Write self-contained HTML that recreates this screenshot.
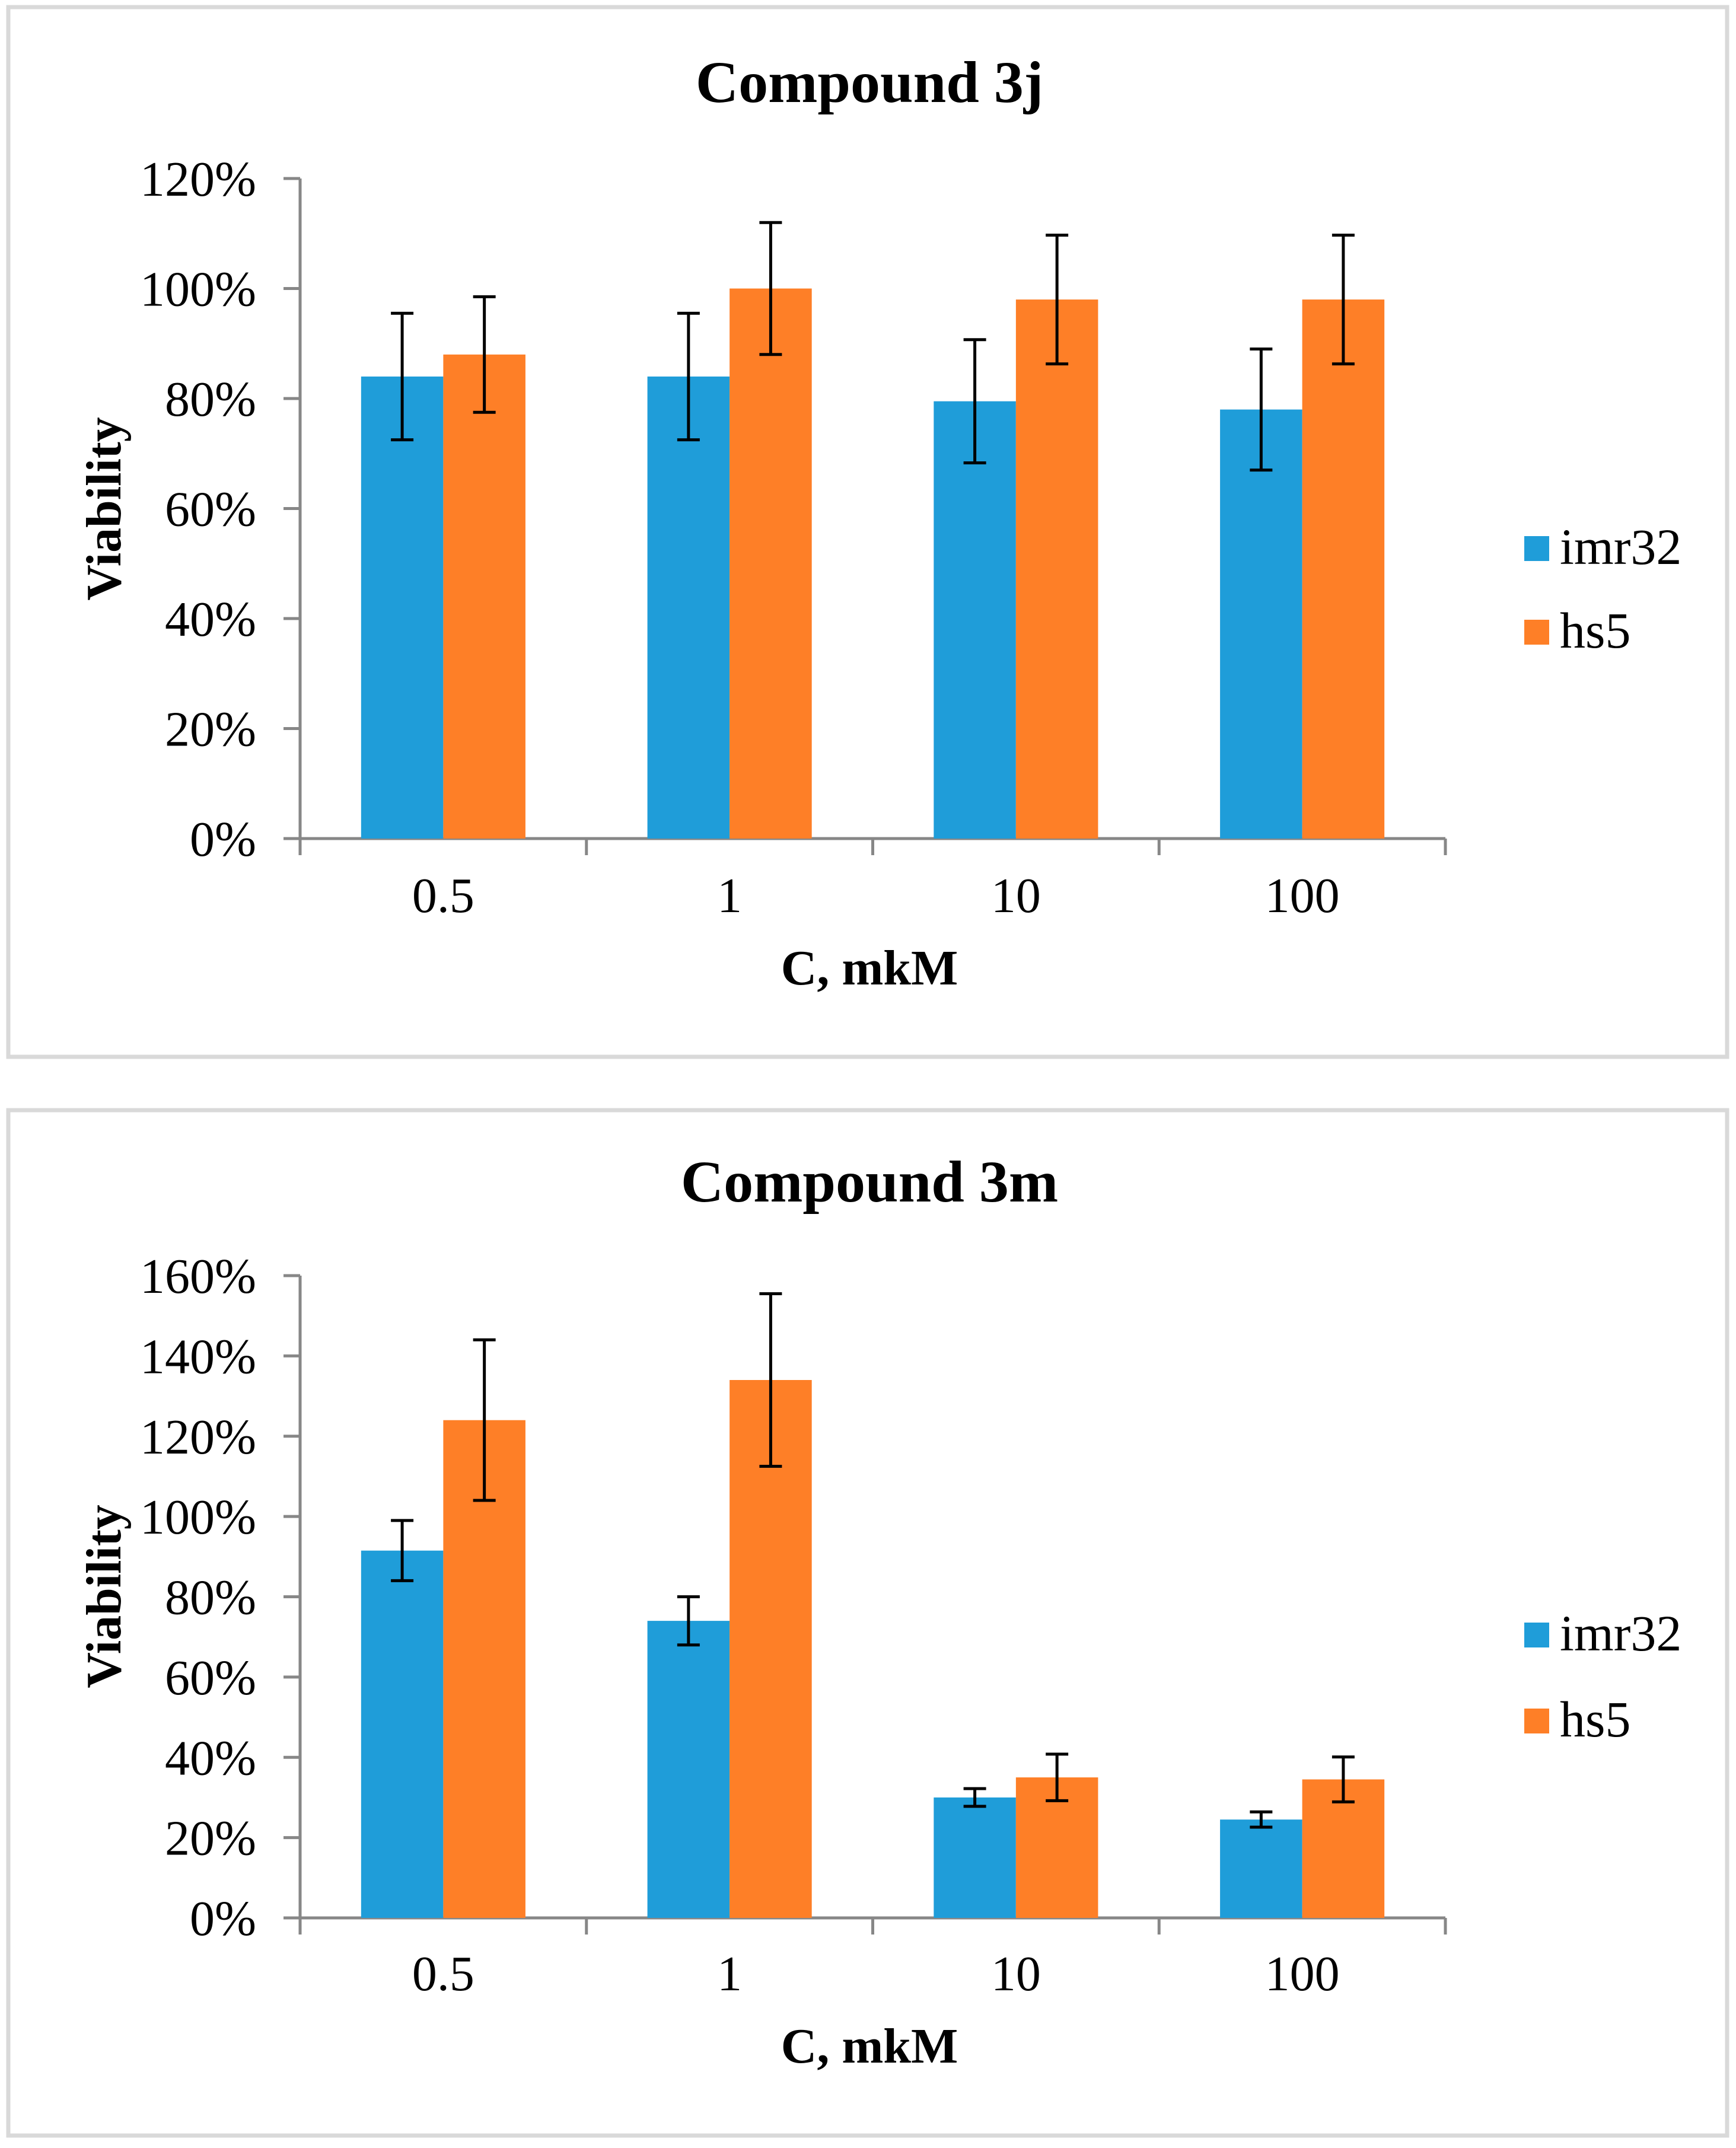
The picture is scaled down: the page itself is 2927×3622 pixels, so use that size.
<!DOCTYPE html>
<html><head><meta charset="utf-8"><style>
html,body{margin:0;padding:0;background:#fff;}
svg{display:block;}
text{font-family:"Liberation Serif",serif;fill:#000;}
</style></head><body>
<svg id="svg" width="2927" height="3622" viewBox="0 0 2927 3622" xmlns="http://www.w3.org/2000/svg"></svg>
<script>
const categories = ["0.5","1","10","100"];
const seriesNames = ["imr32","hs5"];
const topImr = [84,84,79.5,78];
const topImrErr = [11.5,11.5,11.2,11];
const topHs = [88,100,98,98];
const topHsErr = [10.5,12,11.7,11.7];
const topTicks = [0,20,40,60,80,100,120];
const botImr = [91.5,74,30,24.5];
const botImrErr = [7.5,6,2.2,1.9];
const botHs = [124,134,35,34.5];
const botHsErr = [20,21.5,5.8,5.6];
const botTicks = [0,20,40,60,80,100,120,140,160];

const NS="http://www.w3.org/2000/svg";
const svg=document.getElementById('svg');
function mk(tag,attrs,parent,txt){const e=document.createElementNS(NS,tag);for(const k in attrs)e.setAttribute(k,attrs[k]);if(txt!==undefined)e.textContent=txt;(parent||svg).appendChild(e);return e;}
const colors=["#1f9dd9","#fe7f27"];

function chart(cfg){
  const g=mk('g',{});
  
  
  const fr=mk('rect',{x:14,y:cfg.boxTop,width:2898,height:cfg.boxBot-cfg.boxTop,fill:'#fff',stroke:'#d9d9d9','stroke-width':7},g);
  
  
  const x0=506,x1=2437,y0=cfg.yZero,yT=cfg.yTop,max=cfg.ticks[cfg.ticks.length-1];
  const ys=v=>y0-(v/max)*(y0-yT);
  const cw=(x1-x0)/categories.length;
  const bw=cw*0.287;
  const t=mk('text',{x:1466,y:cfg.titleY,'font-size':100,'font-weight':'bold','text-anchor':'middle'},g,cfg.title);
  
  
  // y axis
  const ya=mk('line',{x1:x0,y1:yT,x2:x0,y2:y0+28,stroke:'#878787','stroke-width':5},g);
  
  
  cfg.ticks.forEach(v=>{
    const y=ys(v);
    mk('line',{x1:x0-28,y1:y,x2:x0,y2:y,stroke:'#878787','stroke-width':5},g);
    const tl=mk('text',{x:432,y:y+29,'font-size':84,'text-anchor':'end'},g,v+'%');
    
    
  });
  const xa=mk('line',{x1:x0,y1:y0,x2:x1,y2:y0,stroke:'#878787','stroke-width':5},g);
  
  
  for(let i=0;i<=categories.length;i++){mk('line',{x1:x0+i*cw,y1:y0,x2:x0+i*cw,y2:y0+28,stroke:'#878787','stroke-width':5},g);}
  const data=[cfg.imr,cfg.hs],errs=[cfg.imrErr,cfg.hsErr];
  categories.forEach((c,i)=>{
    const cx=x0+cw*(i+0.5);
    const xl=mk('text',{x:cx,y:cfg.xLabY,'font-size':84,'text-anchor':'middle'},g,c);
    
    
    for(let s=0;s<2;s++){
      const v=data[s][i],e=errs[s][i];
      const bx=cx-bw+s*bw;
      const r=mk('rect',{x:bx,y:ys(v),width:bw,height:y0-ys(v),fill:colors[s]},g);
      
      
      const ex=bx+bw/2;
      const eg=mk('g',{stroke:'#000','stroke-width':5},g);
      
      
      mk('line',{x1:ex,y1:ys(v+e),x2:ex,y2:ys(v-e)},eg);
      mk('line',{x1:ex-19,y1:ys(v+e),x2:ex+19,y2:ys(v+e)},eg);
      mk('line',{x1:ex-19,y1:ys(v-e),x2:ex+19,y2:ys(v-e)},eg);
    }
  });
  const xt=mk('text',{x:1466,y:cfg.xTitleY,'font-size':84,'font-weight':'bold','text-anchor':'middle'},g,'C, mkM');
  
  
  const vt=mk('text',{x:0,y:0,'font-size':84,'font-weight':'bold','text-anchor':'middle',transform:`translate(203,${cfg.vY}) rotate(-90)`},g,'Viability');
  
  
  seriesNames.forEach((n,s)=>{
    const ly=cfg.legY[s];
    const lg=mk('g',{},g);
    
    
    mk('rect',{x:2570,y:ly-47,width:42,height:42,fill:colors[s]},lg);
    mk('text',{x:2630,y:ly,'font-size':86},lg,n);
  });
}
chart({name:'chart-compound-3j',title:'Compound 3j',boxTop:12,boxBot:1782,yZero:1414,yTop:301,ticks:topTicks,imr:topImr,imrErr:topImrErr,hs:topHs,hsErr:topHsErr,titleY:172,xLabY:1538,xTitleY:1660,vY:858,legY:[951,1092]});
chart({name:'chart-compound-3m',title:'Compound 3m',boxTop:1872,boxBot:3601,yZero:3234,yTop:2151,ticks:botTicks,imr:botImr,imrErr:botImrErr,hs:botHs,hsErr:botHsErr,titleY:2026,xLabY:3356,xTitleY:3478,vY:2692,legY:[2783,2928]});
</script>
</body></html>
